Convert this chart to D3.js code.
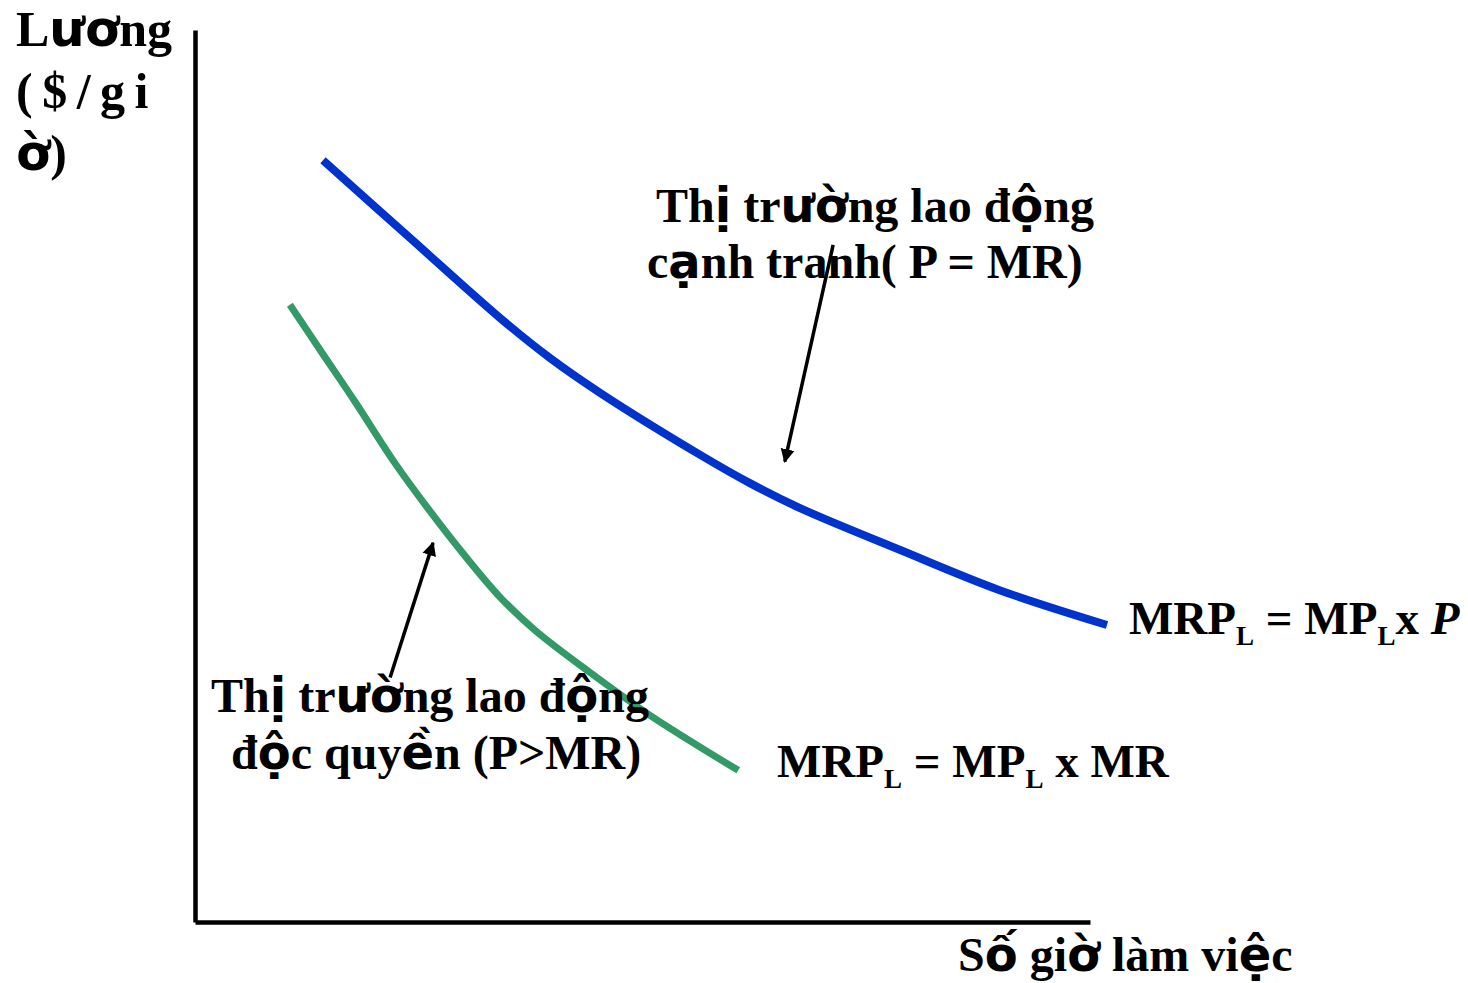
<!DOCTYPE html>
<meta charset="utf-8">
<style>
  body { margin: 0; background: #fff; }
  text { font-family: "Liberation Serif", "Times New Roman", serif; font-weight: bold; fill: #000; }
  .vn { font-family: "DejaVu Sans", sans-serif; }
  .axis path { stroke: #000; stroke-width: 4.5; }
</style>
<body>
<div id="chart"></div>
<script src="https://cdnjs.cloudflare.com/ajax/libs/d3/7.8.5/d3.min.js"></script>
<script>
  // hours worked (x) and wage (y), arbitrary units 0..100
  var competitiveHours = [14.3, 24.0, 34.1, 39.7, 45.3, 56.4, 62.0, 67.6, 78.8, 89.9, 101.9];
  var competitiveWage  = [85.4, 76.7, 67.7, 63.2, 59.3, 52.4, 49.2, 46.4, 41.7, 37.2, 33.3];

  var monopolyHours = [10.6, 14.0, 17.9, 22.3, 26.3, 30.2, 34.1, 38.0, 44.1, 50.8, 60.7];
  var monopolyWage  = [69.2, 64.1, 58.3, 51.5, 46.0, 41.0, 36.4, 32.7, 28.0, 23.2, 17.0];

  // annotation arrows: [from, to] in data units
  var arrowCompetitive = [[71.3, 75.9], [65.9, 51.6]];
  var arrowMonopoly    = [[21.8, 27.4], [26.6, 42.5]];

  var yTitle = ["Lương", "( $ / g i", "ờ)"];
  var xTitle = "Số giờ làm việc";
  var competitiveLabel = ["Thị trường lao động", "cạnh tranh( P = MR)"];
  var monopolyLabel = ["Thị trường lao động", "độc quyền (P>MR)"];

  var width = 1468, height = 983;
  var margin = {top: 30, left: 195, right: 378, bottom: 61};

  var svg = d3.select("#chart").append("svg")
    .attr("width", width)
    .attr("height", height);

  var x = d3.scaleLinear().domain([0, 100]).range([margin.left, width - margin.right]);
  var y = d3.scaleLinear().domain([0, 100]).range([height - margin.bottom, margin.top]);

  svg.append("g")
    .attr("class", "axis")
    .attr("transform", "translate(" + margin.left + ",0)")
    .call(d3.axisLeft(y).tickValues([]).tickSizeOuter(0));

  svg.append("g")
    .attr("class", "axis")
    .attr("transform", "translate(0," + (height - margin.bottom) + ")")
    .call(d3.axisBottom(x).tickValues([]).tickSizeOuter(0));

  var line = d3.line()
    .x(d => x(d[0])).y(d => y(d[1]))
    .curve(d3.curveCatmullRom.alpha(0.5));

  svg.append("path")
    .datum(d3.zip(competitiveHours, competitiveWage))
    .attr("d", line)
    .attr("fill", "none")
    .attr("stroke", "#0033cc")
    .attr("stroke-width", 8);

  svg.append("path")
    .datum(d3.zip(monopolyHours, monopolyWage))
    .attr("d", line)
    .attr("fill", "none")
    .attr("stroke", "#339966")
    .attr("stroke-width", 7);

  svg.append("defs").append("marker")
    .attr("id", "head")
    .attr("viewBox", "0 0 10 10")
    .attr("refX", 9).attr("refY", 5)
    .attr("markerWidth", 4).attr("markerHeight", 4.5)
    .attr("markerUnits", "strokeWidth")
    .attr("orient", "auto")
    .append("path")
    .attr("d", "M0,0L10,5L0,10Z")
    .attr("fill", "#000");

  [arrowCompetitive, arrowMonopoly].forEach(function (a) {
    svg.append("line")
      .attr("x1", x(a[0][0])).attr("y1", y(a[0][1]))
      .attr("x2", x(a[1][0])).attr("y2", y(a[1][1]))
      .attr("stroke", "#000")
      .attr("stroke-width", 3.5)
      .attr("marker-end", "url(#head)");
  });

  // characters the original font lacks fall back to a sans face
  function vnText(sel, str) {
    var parts = str.match(/[^\u0100-\u1EFF]+|đ|[\u0100-\u0110\u0112-\u1EFF]+/g) || [];
    parts.forEach(function (p) {
      var t = sel.append("tspan").text(p);
      if (/[\u0100-\u1EFF]/.test(p) && p !== "đ") t.attr("class", "vn");
    });
  }

  function block(lines, x0, y0, dy, size) {
    return lines.map(function (s, i) {
      var t = svg.append("text")
        .attr("x", Array.isArray(x0) ? x0[i] : x0)
        .attr("y", y0 + i * dy)
        .style("font-size", size + "px");
      vnText(t, s);
      return t;
    });
  }

  block(yTitle, 16, 46, 62, 50)[1].style("word-spacing", "-3px");
  block(competitiveLabel, [656, 647], 222, 56, 48);
  block(monopolyLabel, [211, 231], 712, 57, 48);
  block([xTitle], 958, 971, 0, 48);

  function mrp(x0, y0, tail, italicTail) {
    var t = svg.append("text").attr("x", x0).attr("y", y0).style("font-size", "47px");
    t.append("tspan").text("MRP");
    t.append("tspan").text("L").style("font-size", "27px").attr("dy", 11);
    t.append("tspan").text(" = MP").attr("dy", -11);
    t.append("tspan").text("L").style("font-size", "27px").attr("dy", 11);
    t.append("tspan").text(tail).attr("dy", -11);
    if (italicTail) t.append("tspan").text(italicTail).style("font-style", "italic");
  }

  mrp(1129, 634, "x ", "P");
  mrp(777, 777, " x MR");
</script>
</body>
